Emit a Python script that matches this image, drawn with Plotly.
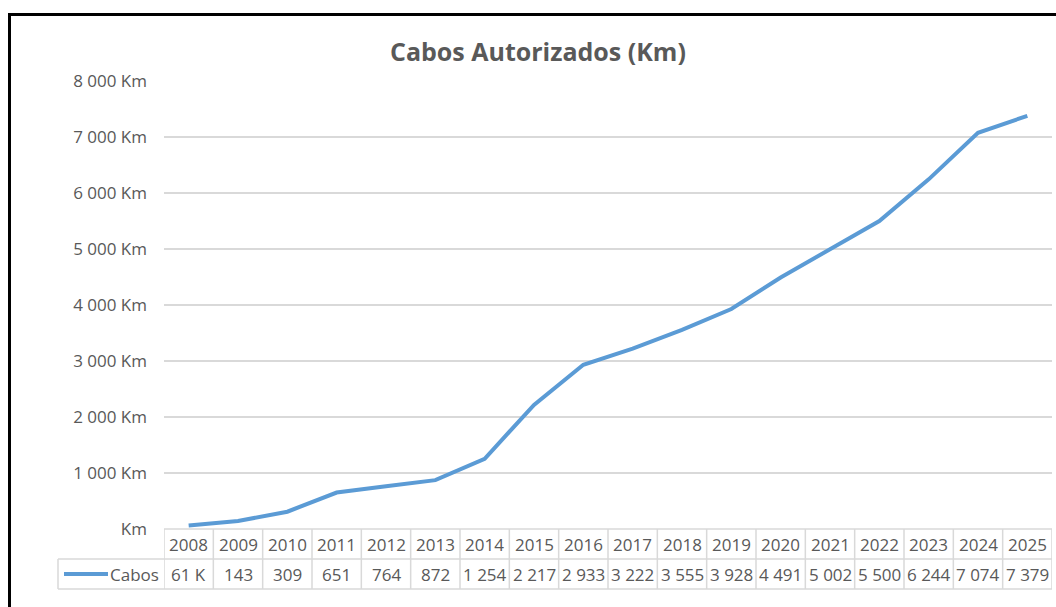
import plotly.graph_objects as go

years = ["2008", "2009", "2010", "2011", "2012", "2013", "2014", "2015", "2016",
         "2017", "2018", "2019", "2020", "2021", "2022", "2023", "2024", "2025"]
cabos = [61, 143, 309, 651, 764, 872, 1254, 2217, 2933, 3222, 3555, 3928,
         4491, 5002, 5500, 6244, 7074, 7379]
cabos_labels = ["61 K", "143", "309", "651", "764", "872", "1 254", "2 217", "2 933",
                "3 222", "3 555", "3 928", "4 491", "5 002", "5 500", "6 244", "7 074", "7 379"]
y_ticks = [0, 1000, 2000, 3000, 4000, 5000, 6000, 7000, 8000]
series_name = "Cabos"
title_text = "Cabos Autorizados (Km)"

W, H = 1056, 607
L, R, T, B = 164, 4, 81, 78
PW, PH = W - L - R, H - T - B

def px(xp):
    return (xp - L) / PW

def py(yp):
    return (H - B - yp) / PH

def fmt(v):
    s = f"{v:,}".replace(",", " ")
    return "Km" if v == 0 else s + " Km"

GRAY = "#595959"
BORDER = "#D9D9D9"
BLUE = "#5B9BD5"
FONT = "Open Sans"
TS = 17

fig = go.Figure()
fig.add_trace(go.Scatter(x=years, y=cabos, mode="lines", name=series_name,
                         line=dict(color=BLUE, width=4), showlegend=False))

shapes = []
annotations = []
n = len(years)
row1_top, row_mid, row_bot = 529, 559, 589
legend_left = 58

shapes.append(dict(type="line", xref="x", yref="paper", x0=-0.5, x1=n - 0.5,
                   y0=py(row1_top), y1=py(row1_top), line=dict(color=BORDER, width=1.5)))
for yy in (row_mid, row_bot):
    shapes.append(dict(type="line", xref="paper", yref="paper", x0=px(legend_left), x1=1,
                       y0=py(yy), y1=py(yy), line=dict(color=BORDER, width=1.5)))
for i in range(n + 1):
    shapes.append(dict(type="line", xref="x", yref="paper", x0=i - 0.5, x1=i - 0.5,
                       y0=py(row1_top), y1=py(row_bot), line=dict(color=BORDER, width=1.5)))
shapes.append(dict(type="line", xref="paper", yref="paper", x0=px(legend_left), x1=px(legend_left),
                   y0=py(row_mid), y1=py(row_bot), line=dict(color=BORDER, width=1.5)))
shapes.append(dict(type="line", xref="paper", yref="paper", x0=px(64), x1=px(108),
                   y0=py(574), y1=py(574), line=dict(color=BLUE, width=4)))
shapes.append(dict(type="line", xref="paper", yref="paper", x0=px(9.5), x1=px(9.5),
                   y0=py(14.5), y1=py(H + 10), line=dict(color="black", width=3)))
shapes.append(dict(type="line", xref="paper", yref="paper", x0=px(8), x1=px(W + 10),
                   y0=py(14.5), y1=py(14.5), line=dict(color="black", width=3)))

for i, (yr, lab) in enumerate(zip(years, cabos_labels)):
    annotations.append(dict(x=i, y=py((row1_top + row_mid) / 2), xref="x", yref="paper",
                            text=yr, showarrow=False, xanchor="center", yanchor="middle",
                            font=dict(family=FONT, size=TS, color=GRAY)))
    annotations.append(dict(x=i, y=py((row_mid + row_bot) / 2), xref="x", yref="paper",
                            text=lab, showarrow=False, xanchor="center", yanchor="middle",
                            font=dict(family=FONT, size=TS, color=GRAY)))
annotations.append(dict(x=px(161), y=py((row_mid + row_bot) / 2), xref="paper", yref="paper",
                        text=series_name, showarrow=False, xanchor="right", yanchor="middle",
                        font=dict(family=FONT, size=TS, color=GRAY)))
annotations.append(dict(x=px(538), y=py(51), xref="paper", yref="paper",
                        text="<b>" + title_text + "</b>", showarrow=False,
                        xanchor="center", yanchor="middle",
                        font=dict(family=FONT, size=25, color=GRAY)))

fig.update_layout(
    width=W, height=H,
    margin=dict(l=L, r=R, t=T, b=B),
    paper_bgcolor="white", plot_bgcolor="white",
    shapes=shapes, annotations=annotations,
    xaxis=dict(type="category", range=[-0.5, n - 0.5], showgrid=False,
               showticklabels=False, showline=False, zeroline=False, ticks=""),
    yaxis=dict(range=[0, 8000], tickvals=y_ticks, ticktext=[fmt(v) for v in y_ticks],
               showgrid=True, gridcolor=BORDER, gridwidth=1.5, zeroline=False,
               showline=False, ticks="", ticklabelstandoff=16,
               tickfont=dict(family=FONT, size=17, color=GRAY)),
)
fig.write_html("out.html", config={"displayModeBar": False},
               post_script="document.body.style.margin='0';")
